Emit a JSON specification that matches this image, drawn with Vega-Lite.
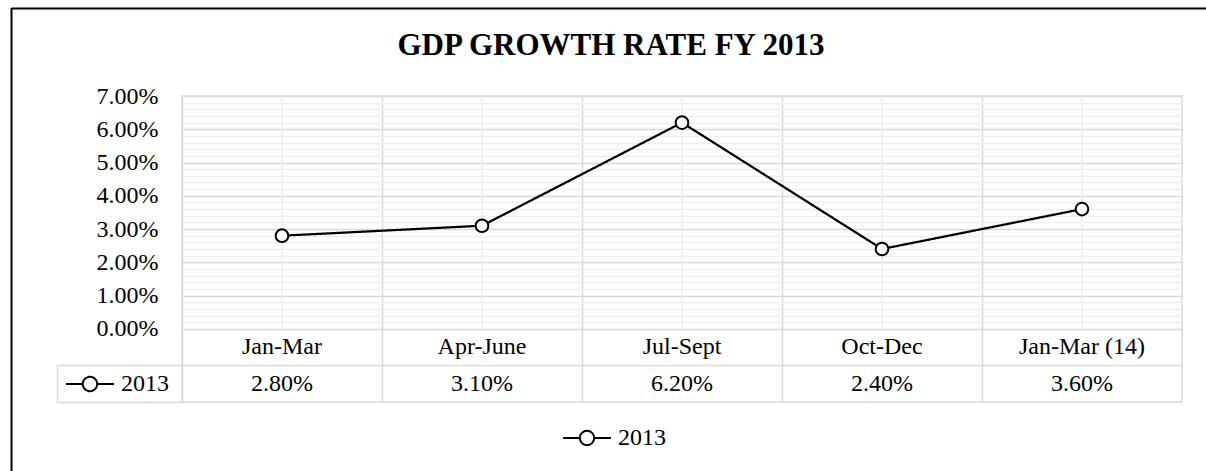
{
  "$schema": "https://vega.github.io/schema/vega-lite/v6.json",
  "width": 1000,
  "height": 306,
  "autosize": {"type": "none"},
  "padding": {"left": 182, "top": 96, "right": 24, "bottom": 69},
  "background": "white",
  "title": {
    "text": "GDP GROWTH RATE FY 2013",
    "font": "Liberation Serif",
    "fontSize": 31,
    "fontWeight": "bold",
    "color": "black",
    "anchor": "middle",
    "dx": -71,
    "offset": -79,
    "baseline": "alphabetic"
  },
  "data": {
    "values": [
      {"period": "Jan-Mar", "growth": 0.028, "series": "2013"},
      {"period": "Apr-June", "growth": 0.031, "series": "2013"},
      {"period": "Jul-Sept", "growth": 0.062, "series": "2013"},
      {"period": "Oct-Dec", "growth": 0.024, "series": "2013"},
      {"period": "Jan-Mar (14)", "growth": 0.036, "series": "2013"}
    ]
  },
  "config": {
    "view": {"stroke": "#d9d9d9", "strokeWidth": 1.5},
    "font": "Liberation Serif"
  },
  "layer": [
    {
      "mark": {"type": "rule", "color": "#eeeeee", "strokeWidth": 1.5},
      "encoding": {
        "x": {
          "field": "period",
          "type": "nominal",
          "sort": null,
          "scale": {"type": "band", "paddingInner": 0, "paddingOuter": 0},
          "axis": {
            "orient": "bottom",
            "title": null,
            "labels": false,
            "ticks": false,
            "domain": false,
            "grid": true,
            "bandPosition": 0,
            "gridColor": "#d9d9d9",
            "gridWidth": 1.5
          }
        },
        "y": {
          "datum": 0,
          "type": "quantitative",
          "scale": {"domain": [-0.022, 0.07]},
          "axis": {
            "orient": "right",
            "title": null,
            "labels": false,
            "ticks": false,
            "domain": false,
            "grid": true,
            "gridWidth": 1.5,
            "gridColor": {
              "condition": {"test": "datum.value < 0 || abs(datum.value * 100 - round(datum.value * 100)) < 0.001", "value": "#d9d9d9"},
              "value": "#eeeeee"
            },
            "values": [-0.011, 0, 0.002, 0.004, 0.006, 0.008, 0.01, 0.012, 0.014, 0.016, 0.018, 0.02, 0.022, 0.024, 0.026, 0.028, 0.03, 0.032, 0.034, 0.036, 0.038, 0.04, 0.042, 0.044, 0.046, 0.048, 0.05, 0.052, 0.054, 0.056, 0.058, 0.06, 0.062, 0.064, 0.066, 0.068, 0.07]
          }
        },
        "y2": {"datum": 0.07}
      }
    },
    {
      "mark": {"type": "line", "strokeWidth": 2.25},
      "encoding": {
        "x": {"field": "period", "type": "nominal", "sort": null, "scale": {"type": "band", "paddingInner": 0, "paddingOuter": 0}, "axis": null},
        "y": {
          "field": "growth",
          "type": "quantitative",
          "scale": {"domain": [-0.022, 0.07]},
          "axis": {
            "orient": "left",
            "offset": 125,
            "title": null,
            "values": [-0.022, -0.011, 0, 0.01, 0.02, 0.03, 0.04, 0.05, 0.06, 0.07],
            "labelExpr": "datum.value < 0 ? '' : format(datum.value, '.2%')",
            "labelFont": "Liberation Serif",
            "labelFontSize": 24,
            "labelColor": "black",
            "labelPadding": 24,
            "labelOverlap": false,
            "labelFlush": false,
            "grid": false,
            "ticks": true,
            "tickSize": -125,
            "tickWidth": 1.5,
            "tickColor": {"condition": {"test": "datum.value < 0", "value": "#d9d9d9"}, "value": "transparent"},
            "domain": true,
            "domainColor": "#d9d9d9",
            "domainWidth": 1.5,
            "domainDash": [37, 1000]
          }
        },
        "color": {
          "datum": "2013",
          "scale": {"range": ["black"]},
          "legend": {
            "orient": "none",
            "legendX": 380,
            "legendY": 317,
            "title": null,
            "padding": 0,
            "symbolType": "M-1,0L-0.3,0M0.3,0L1,0M0.3,0A0.3,0.3,0,1,1,-0.3,0A0.3,0.3,0,1,1,0.3,0",
            "symbolSize": 2304,
            "symbolStrokeWidth": 2,
            "symbolFillColor": "white",
            "symbolStrokeColor": "black",
            "labelFont": "Liberation Serif",
            "labelFontSize": 24,
            "labelColor": "black",
            "labelOffset": 6
          }
        },
        "strokeDash": {
          "field": "series",
          "type": "nominal",
          "scale": {"range": [[1, 0]]},
          "legend": {
            "orient": "none",
            "legendX": -117,
            "legendY": 263,
            "title": null,
            "padding": 0,
            "symbolType": "M-1,0L-0.3,0M0.3,0L1,0M0.3,0A0.3,0.3,0,1,1,-0.3,0A0.3,0.3,0,1,1,0.3,0",
            "symbolSize": 2304,
            "symbolStrokeWidth": 2,
            "symbolFillColor": "white",
            "symbolStrokeColor": "black",
            "labelFont": "Liberation Serif",
            "labelFontSize": 24,
            "labelColor": "black",
            "labelOffset": 6
          }
        }
      }
    },
    {
      "mark": {"type": "point", "filled": true, "fill": "white", "stroke": "black", "strokeWidth": 2, "size": 160, "opacity": 1},
      "encoding": {
        "x": {
          "field": "period",
          "type": "nominal",
          "sort": null,
          "scale": {"type": "band", "paddingInner": 0, "paddingOuter": 0},
          "axis": {
            "orient": "top",
            "offset": 88.5,
            "title": null,
            "values": ["Jan-Mar"],
            "bandPosition": -0.855,
            "labels": false,
            "domain": false,
            "grid": false,
            "ticks": true,
            "tickSize": -464,
            "tickWidth": 2,
            "tickColor": "black"
          }
        },
        "y": {"field": "growth", "type": "quantitative", "scale": {"domain": [-0.022, 0.07]}, "axis": null}
      }
    },
    {
      "mark": {"type": "text", "font": "Liberation Serif", "fontSize": 24, "color": "black"},
      "encoding": {
        "x": {"field": "period", "type": "nominal", "sort": null, "scale": {"type": "band", "paddingInner": 0, "paddingOuter": 0}, "axis": null},
        "y": {
          "datum": -0.0055,
          "type": "quantitative",
          "scale": {"domain": [-0.022, 0.07]},
          "axis": {
            "orient": "left",
            "offset": 171,
            "title": null,
            "values": [0.07],
            "tickOffset": -88.5,
            "labels": false,
            "domain": false,
            "grid": false,
            "ticks": true,
            "tickSize": -1195,
            "tickWidth": 2,
            "tickColor": "black"
          }
        },
        "text": {"field": "period"}
      }
    },
    {
      "mark": {"type": "text", "font": "Liberation Serif", "fontSize": 24, "color": "black"},
      "encoding": {
        "x": {"field": "period", "type": "nominal", "sort": null, "scale": {"type": "band", "paddingInner": 0, "paddingOuter": 0}, "axis": null},
        "y": {"datum": -0.0165, "type": "quantitative", "scale": {"domain": [-0.022, 0.07]}, "axis": null},
        "text": {"field": "growth", "type": "quantitative", "format": ".2%"}
      }
    }
  ],
  "resolve": {"axis": {"x": "independent", "y": "independent"}}
}
